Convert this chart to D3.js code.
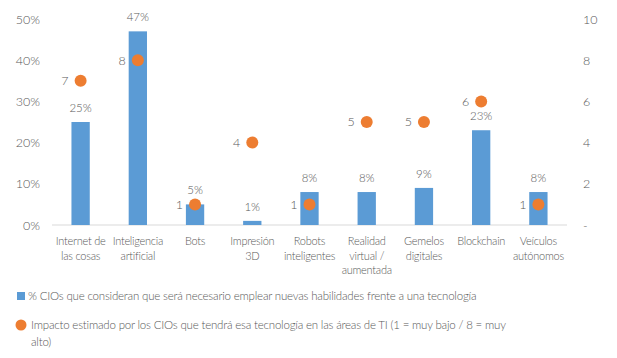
<!DOCTYPE html>
<html>
<head>
<meta charset="utf-8">
<script src="https://cdn.jsdelivr.net/npm/d3@7"></script>
<style>
  body { margin: 0; background: #fff; }
  text { font-family: Lato, "Open Sans", sans-serif; font-weight: 300; fill: #595959; }
</style>
</head>
<body>
<div id="chart"></div>
<script>
'use strict';

// the data
var categories = [
    ['Internet de', 'las cosas'],
    ['Inteligencia', 'artificial'],
    ['Bots'],
    ['Impresión', '3D'],
    ['Robots', 'inteligentes'],
    ['Realidad', 'virtual /', 'aumentada'],
    ['Gemelos', 'digitales'],
    ['Blockchain'],
    ['Veículos', 'autónomos']
];
var pctValues = [25, 47, 5, 1, 8, 8, 9, 23, 8];
var impactValues = [7, 8, 1, 4, 1, 5, 5, 6, 1];
var leftTicks = [0, 10, 20, 30, 40, 50];
var rightTicks = [0, 2, 4, 6, 8, 10];
var legendLabels = [
    '% CIOs que consideran que será necesario emplear nuevas habilidades frente a una tecnología',
    ['Impacto estimado por los CIOs que tendrá esa tecnología en las áreas de TI (1 = muy bajo / 8 = muy', 'alto)']
];

var blue = '#5b9bd5', orange = '#ed7d31';

var margin = {top: 19, right: 50, bottom: 133, left: 52},
    width = 617 - margin.left - margin.right,
    height = 358 - margin.top - margin.bottom;

var svg = d3.select('#chart')
    .append('svg')
    .attr('width', 617)
    .attr('height', 358);

var vis = svg.append('g')
    .attr('transform', 'translate(' + margin.left + ',' + margin.top + ')');

// set the ranges
var x = d3.scaleBand().domain(d3.range(categories.length)).range([0, width]).paddingInner(0.68).paddingOuter(0.34);
var yL = d3.scaleLinear().domain([0, 50]).range([height, 0]);
var yR = d3.scaleLinear().domain([0, 10]).range([height, 0]);

// left axis
var axL = vis.append('g')
    .attr('transform', 'translate(-12,0)')
    .call(d3.axisLeft(yL).tickValues(leftTicks).tickSize(0).tickPadding(0).tickFormat(function(d) { return d + '%'; }));
axL.select('.domain').remove();
axL.selectAll('text').style('font-size', '12.5px').attr('fill', null);

// right axis
var axR = vis.append('g')
    .attr('transform', 'translate(' + (width + 16) + ',0)')
    .call(d3.axisRight(yR).tickValues(rightTicks).tickSize(0).tickPadding(0).tickFormat(function(d) { return d === 0 ? '-' : d; }));
axR.select('.domain').remove();
axR.selectAll('text').style('font-size', '12.5px').attr('fill', null);

// baseline
vis.append('line')
    .attr('x1', 0).attr('x2', width)
    .attr('y1', yL(0)).attr('y2', yL(0))
    .attr('stroke', '#d9d9d9').attr('stroke-width', 1);

// bars
vis.selectAll('.bar')
    .data(pctValues)
    .enter().append('rect')
    .attr('class', 'bar')
    .attr('x', function(d, i) { return x(i); })
    .attr('width', x.bandwidth())
    .attr('y', function(d) { return yL(d); })
    .attr('height', function(d) { return yL(0) - yL(d); })
    .attr('fill', blue);

vis.selectAll('.barlabel')
    .data(pctValues)
    .enter().append('text')
    .attr('x', function(d, i) { return x(i) + x.bandwidth() / 2; })
    .attr('y', function(d) { return yL(d) - 10; })
    .attr('text-anchor', 'middle')
    .style('font-size', '11.5px')
    .text(function(d) { return d + '%'; });

// impact dots
vis.selectAll('.dot')
    .data(impactValues)
    .enter().append('circle')
    .attr('cx', function(d, i) { return x(i) + x.bandwidth() / 2; })
    .attr('cy', function(d) { return yR(d); })
    .attr('r', 6)
    .attr('fill', orange);

vis.selectAll('.dotlabel')
    .data(impactValues)
    .enter().append('text')
    .attr('x', function(d, i) { return x(i) + x.bandwidth() / 2 - 12; })
    .attr('y', function(d) { return yR(d); })
    .attr('dy', '0.35em')
    .attr('text-anchor', 'end')
    .style('font-size', '12.5px')
    .text(function(d) { return d; });

// category labels
var cat = vis.selectAll('.cat')
    .data(categories)
    .enter().append('text')
    .attr('text-anchor', 'middle')
    .style('font-size', '11px')
    .style('letter-spacing', '-0.25px')
    .attr('transform', function(d, i) { return 'translate(' + (x(i) + x.bandwidth() / 2) + ',' + (height + 20) + ')'; });
cat.selectAll('tspan')
    .data(function(d) { return d; })
    .enter().append('tspan')
    .attr('x', 0)
    .attr('y', function(d, j) { return j * 14.5; })
    .text(function(d) { return d; });

// legend
var leg = svg.append('g')
    .style('font-size', '11.5px')
    .style('letter-spacing', '-0.2px');
leg.append('rect')
    .attr('x', 17).attr('y', 292).attr('width', 8).attr('height', 8)
    .attr('fill', blue);
leg.append('text')
    .attr('x', 28).attr('y', 300)
    .text(legendLabels[0]);
leg.append('circle')
    .attr('cx', 21).attr('cy', 325).attr('r', 5.5)
    .attr('fill', orange);
leg.append('text')
    .attr('x', 31).attr('y', 329)
    .text(legendLabels[1][0]);
leg.append('text')
    .attr('x', 31).attr('y', 346)
    .text(legendLabels[1][1]);
</script>
</body>
</html>
